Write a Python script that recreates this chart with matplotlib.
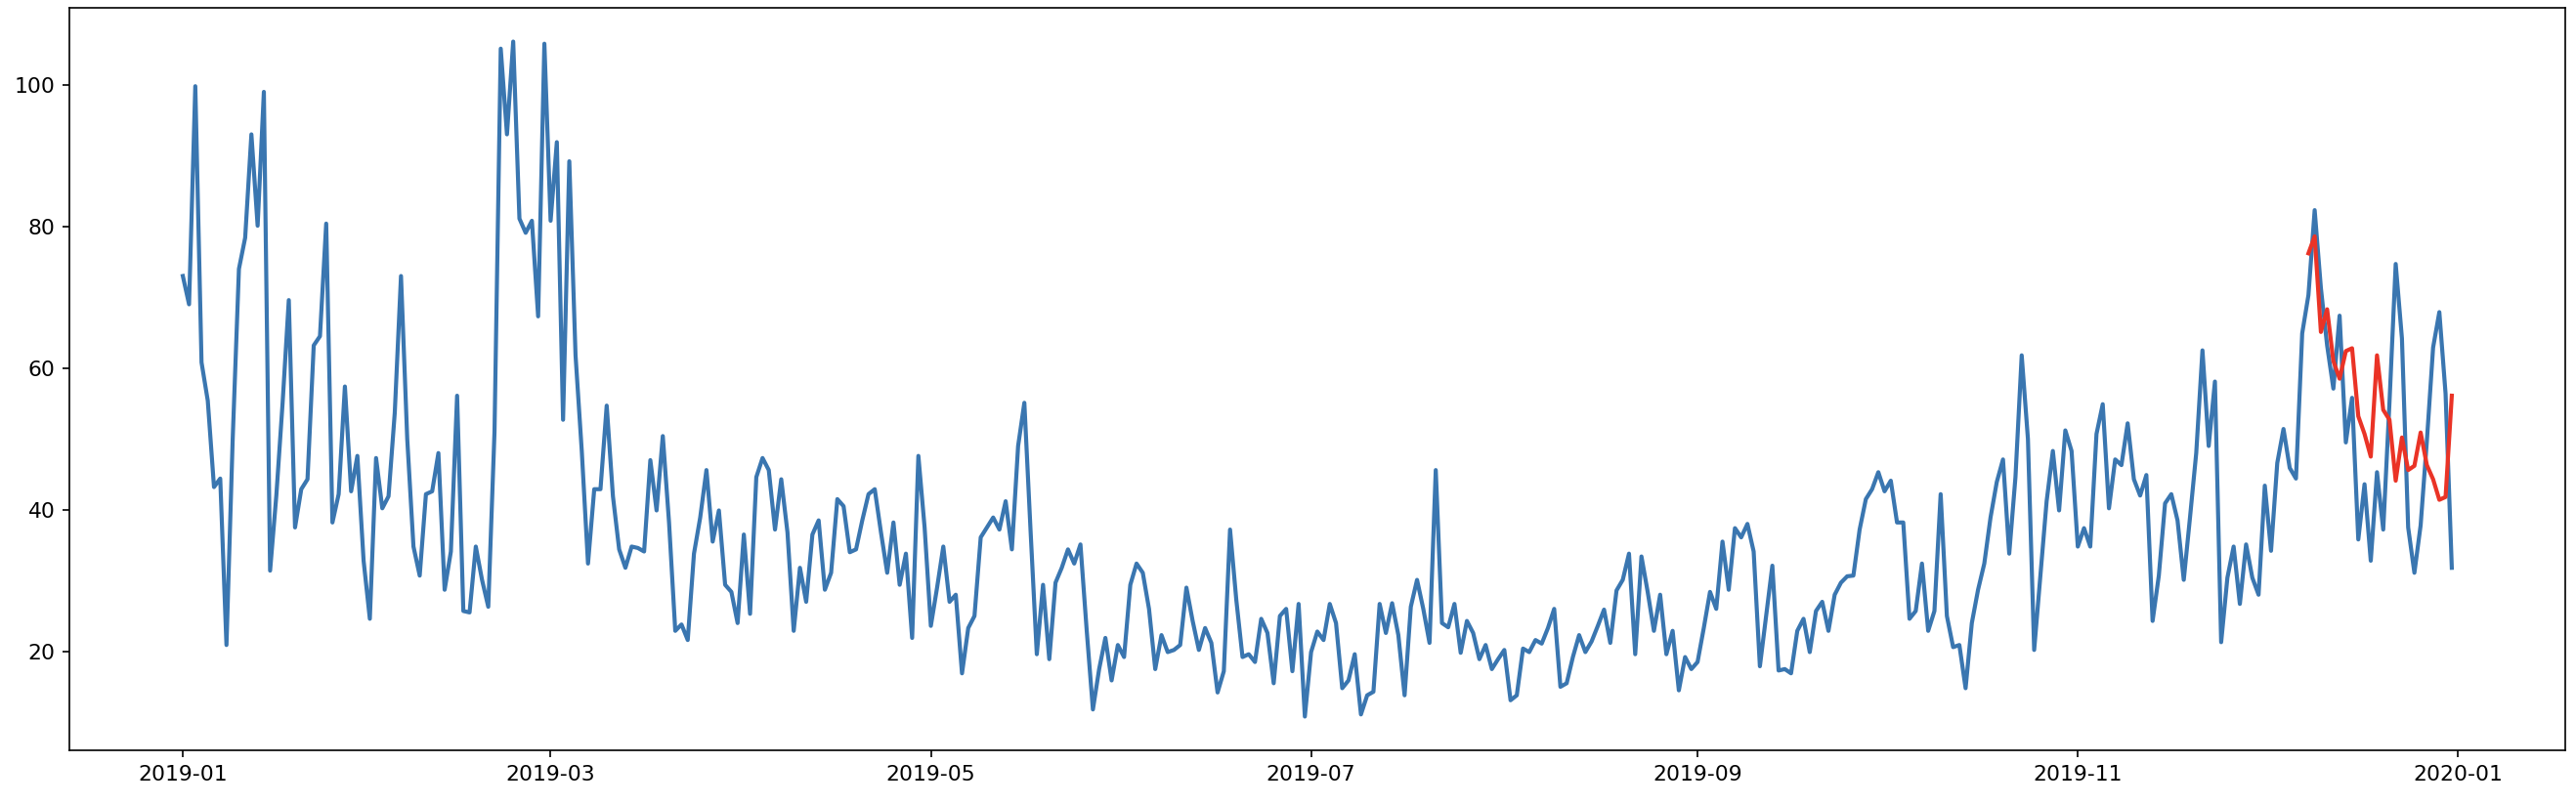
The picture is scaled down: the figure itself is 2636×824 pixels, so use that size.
import numpy as np
import pandas as pd
import matplotlib
matplotlib.use("Agg")
import matplotlib.pyplot as plt
import matplotlib.dates as mdates

start_date = "2019-01-01"
forecast_start = "2019-12-08"

observed = [
    73.0, 69.0, 99.8, 60.8, 55.4, 43.2, 44.4, 20.9, 50.0, 74.0,
    78.4, 93.0, 80.1, 99.0, 31.4, 42.0, 55.0, 69.6, 37.5, 42.9,
    44.3, 63.2, 64.5, 80.4, 38.2, 42.2, 57.4, 42.6, 47.6, 32.8,
    24.6, 47.3, 40.2, 41.9, 53.7, 73.0, 50.0, 34.8, 30.7, 42.2,
    42.6, 48.0, 28.7, 34.1, 56.1, 25.7, 25.5, 34.8, 30.1, 26.3,
    51.0, 105.1, 93.0,
    106.1, 81.1, 79.1, 80.8, 67.3, 105.8, 80.8, 91.9, 52.7, 89.2,
    61.8, 48.3, 32.4, 42.9, 42.9, 54.7, 41.9, 34.4, 31.8, 34.8,
    34.6, 34.1, 47.0, 39.9, 50.4, 38.2, 22.9, 23.8, 21.6, 33.8,
    38.9, 45.6, 35.5, 39.9, 29.4, 28.4, 24.0, 36.5, 25.3, 44.6,
    47.3, 45.6, 37.2, 44.3, 36.8, 22.9, 31.8, 27.0, 36.5, 38.5,
    28.7, 31.1, 41.5,
    40.5, 34.0, 34.4, 38.5, 42.2, 42.9, 36.8, 31.1, 38.2, 29.4,
    33.8, 21.9, 47.6, 37.5, 23.6, 29.0, 34.8, 27.0, 28.0, 16.9,
    23.3, 25.0, 36.1, 37.5, 38.9, 37.2, 41.2, 34.4, 49.0, 55.1,
    37.0, 19.6, 29.4, 18.9, 29.7, 31.8, 34.4, 32.4, 35.1, 23.0,
    11.8, 17.5, 21.9, 15.9, 20.9, 19.2, 29.4, 32.4, 31.1, 26.0,
    17.5, 22.3, 19.9, 20.2,
    20.9, 29.0, 24.3, 20.2, 23.3, 21.2, 14.2, 17.2, 37.2, 27.3,
    19.2, 19.6, 18.5, 24.6, 22.6, 15.5, 25.0, 26.0, 17.2, 26.7,
    10.8, 19.9, 22.8, 21.6, 26.7, 24.0, 14.8, 15.9, 19.6, 11.1,
    13.8, 14.3, 26.7, 22.6, 26.8, 22.3, 13.8, 26.3, 30.1, 26.0,
    21.2, 45.6, 24.0, 23.4, 26.7, 19.8, 24.3, 22.6, 18.9, 20.9,
    17.5, 18.9, 20.2,
    13.1, 13.8, 20.4, 19.9, 21.6, 21.1, 23.3, 26.0, 15.0, 15.5,
    19.2, 22.3, 19.9, 21.4, 23.6, 25.9, 21.2, 28.6, 30.1, 33.8,
    19.6, 33.4, 28.4, 22.9, 28.0, 19.6, 22.9, 14.5, 19.2, 17.5,
    18.5, 23.3, 28.4, 26.0, 35.5, 28.7, 37.4, 36.1, 38.0, 34.1,
    17.9, 25.0, 32.1, 17.3, 17.5, 16.9, 22.9, 24.6, 19.9, 25.7,
    27.0, 22.9, 28.0,
    29.7, 30.6, 30.7, 37.2, 41.5, 42.9, 45.3, 42.6, 44.1, 38.2,
    38.2, 24.6, 25.7, 32.4, 22.9, 25.7, 42.2, 25.0, 20.6, 20.9,
    14.8, 24.0, 28.7, 32.4, 38.9, 43.9, 47.1, 33.8, 44.6, 61.8,
    50.0, 20.2, 30.7, 41.2, 48.3, 39.9, 51.2, 48.3, 34.8, 37.4,
    34.8, 50.7, 54.9, 40.2, 47.1, 46.3, 52.2, 44.3, 42.0, 44.9,
    24.3, 30.7, 40.9, 42.2,
    38.5, 30.1, 38.9, 48.0, 62.5, 49.0, 58.1, 21.3, 30.4, 34.8,
    26.7, 35.1, 30.4, 28.0, 43.4, 34.2, 46.6, 51.4, 45.9, 44.4,
    64.9, 70.3, 82.3, 71.3, 63.2, 57.1, 67.4, 49.5, 55.8, 35.8,
    43.6, 32.8, 45.3, 37.2, 55.1, 74.7, 64.2, 37.5, 31.1, 37.8,
    49.7, 62.9, 67.9, 56.4, 31.8,
]

forecast = [
    76.2, 78.6, 65.1, 68.3, 61.0, 58.5, 62.4, 62.8, 53.2, 50.7,
    47.5, 61.8, 54.1, 52.7, 44.1, 50.2, 45.6, 46.2, 50.9, 46.3,
    44.3, 41.4, 41.8, 56.1,
]

obs_dates = pd.date_range(start_date, periods=len(observed), freq="D")
fc_dates = pd.date_range(forecast_start, periods=len(forecast), freq="D")

DPI = 150
fig = plt.figure(figsize=(2636 / DPI, 824 / DPI), dpi=DPI)
W, H = 2636, 824
left, right, top, bottom = 71, 2625, 8, 768
ax = fig.add_axes([left / W, 1 - bottom / H, (right - left) / W, (bottom - top) / H])

ax.plot(obs_dates, observed, color="#3a76b0", linewidth=2.0)
ax.plot(fc_dates, forecast, color="#ea3326", linewidth=2.0)

ax.xaxis.set_major_locator(mdates.MonthLocator(bymonth=[1, 3, 5, 7, 9, 11]))
ax.xaxis.set_major_formatter(mdates.DateFormatter("%Y-%m"))
ax.set_yticks([20, 40, 60, 80, 100])
ax.tick_params(labelsize=10.5)

fig.savefig("out.png", dpi=DPI)
